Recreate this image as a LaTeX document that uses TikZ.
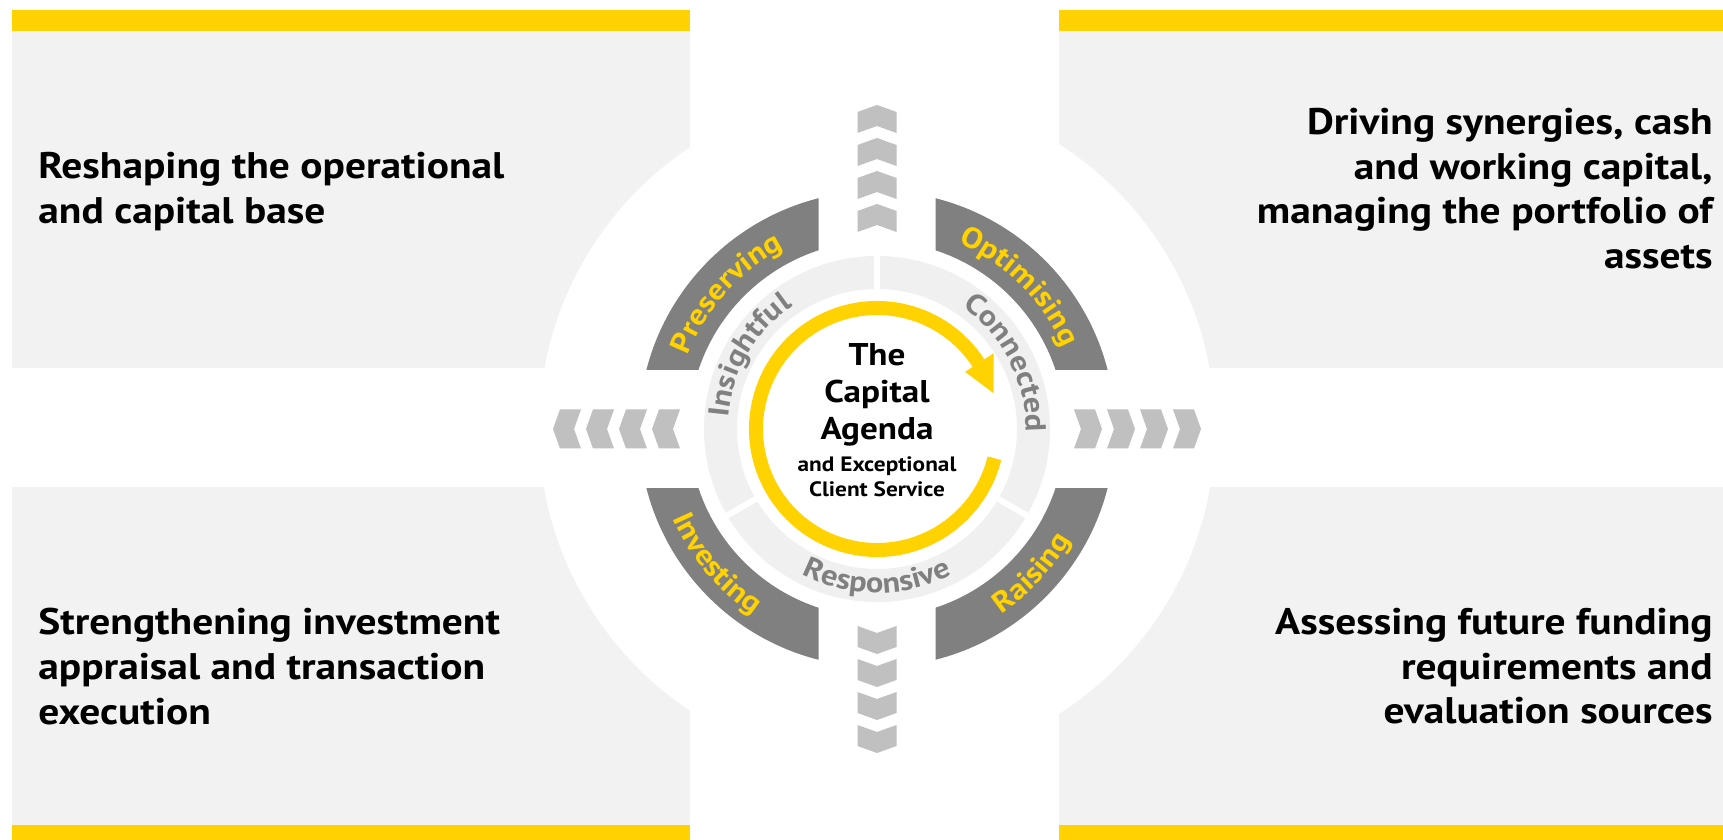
\documentclass[tikz,border=0pt]{standalone}
\usepackage{fontspec}
\setmainfont{PT Sans}[FakeStretch=1.12]
\usetikzlibrary{decorations.text}

\definecolor{eyyellow}{RGB}{255,210,0}
\definecolor{panelgray}{RGB}{242,242,242}
\definecolor{ringgray}{RGB}{240,240,240}
\definecolor{arcgray}{RGB}{128,128,128}
\definecolor{chevgray}{RGB}{192,192,192}
\definecolor{labelgray}{RGB}{128,128,128}

\newcommand{\ringfont}{\fontsize{14.5}{14.5}\selectfont\bfseries}

\begin{document}
\begin{tikzpicture}[x=0.5pt,y=0.5pt,
  every node/.style={inner sep=0pt},
  panel/.style={fill=panelgray},
  bar/.style={fill=eyyellow},
  chevron/.style={fill=chevgray},
  quadtext/.style={font=\fontsize{18.5}{22.3}\selectfont\bfseries},
  ringtext/.style={decorate, decoration={text along path, text align=center, text={#1}}}]

\useasboundingbox (0,0) rectangle (1723,840);

% Corner panels
\fill[panel] (12,472) rectangle (690,809);
\fill[panel] (1059,472) rectangle (1723,809);
\fill[panel] (12,15) rectangle (690,353);
\fill[panel] (1059,15) rectangle (1723,353);

% Yellow bars
\fill[bar] (12,809) rectangle (690,830);
\fill[bar] (1059,809) rectangle (1723,830);
\fill[bar] (12,0) rectangle (690,15);
\fill[bar] (1059,0) rectangle (1723,15);

% Corner texts
\node[quadtext, anchor=north west, align=left] (reshaping) at (38,688)
  {Reshaping the operational\\and capital base};
\node[quadtext, anchor=north east, align=right] (driving) at (1713,732)
  {Driving synergies, cash\\and working capital,\\managing the portfolio of\\assets};
\node[quadtext, anchor=north west, align=left] (strengthening) at (38,232)
  {Strengthening investment\\appraisal and transaction\\execution};
\node[quadtext, anchor=north east, align=right] (assessing) at (1713,232)
  {Assessing future funding\\requirements and\\evaluation sources};

\begin{scope}[shift={(877,411)}]

% White disc
\fill[white] (0,0) circle[radius=338];

% Dark arcs, cut by the cross
\foreach \sx/\sy in {1/1,-1/1,-1/-1,1/-1}{
  \begin{scope}
    \clip (\sx*58.5,\sy*59.5) rectangle (\sx*260,\sy*260);
    \fill[arcgray, even odd rule] (0,0) circle[radius=238] circle[radius=188];
  \end{scope}
}

% Light ring, three segments
\fill[ringgray, even odd rule] (0,0) circle[radius=173] circle[radius=140];
\foreach \a in {90,210,330}
  \draw[white, line width=3pt] (\a:135) -- (\a:178);

% Yellow arrow
\draw[eyyellow, line width=7pt] (-14:121) arc[start angle=-14, end angle=-327, radius=121];
\fill[eyyellow] (33:105) -- (33:139) -- (17:122) -- cycle;

% Chevrons
\foreach \a in {0,90,180,270}
  \foreach \k in {0,...,3}
    \fill[chevron, rotate=\a] ({197+33*\k},19.5) -- ++(21,0) -- ++(7,-19.5)
      -- ++(-7,-19.5) -- ++(-21,0) -- ++(7,19.5) -- cycle;

% Outer labels
\path[ringtext={|\color{eyyellow}\ringfont|Preserving}]
  (173:203) arc[start angle=173, end angle=103, radius=203];
\path[ringtext={|\color{eyyellow}\ringfont|Optimising}]
  (80:203) arc[start angle=80, end angle=10, radius=203];
\path[ringtext={|\color{eyyellow}\ringfont|Investing}]
  (185:223) arc[start angle=185, end angle=255, radius=223];
\path[ringtext={|\color{eyyellow}\ringfont|Raising}]
  (282:223) arc[start angle=282, end angle=352, radius=223];

% Inner labels
\path[ringtext={|\color{labelgray}\ringfont|Insightful}]
  (205:149) arc[start angle=205, end angle=95, radius=149];
\path[ringtext={|\color{labelgray}\ringfont|Connected}]
  (82:149) arc[start angle=82, end angle=-28, radius=149];
\path[ringtext={|\color{labelgray}\ringfont|Responsive}]
  (215:164) arc[start angle=215, end angle=325, radius=164];

\end{scope}

% Centre
\node[font=\fontsize{15.7}{18.5}\selectfont\bfseries, align=center, anchor=north] (agenda)
  at (877,497) {The\\Capital\\Agenda};
\node[font=\fontsize{10.4}{12.5}\selectfont\bfseries, align=center, anchor=north] (service)
  at (877,384) {and Exceptional\\Client Service};

\end{tikzpicture}
\end{document}
